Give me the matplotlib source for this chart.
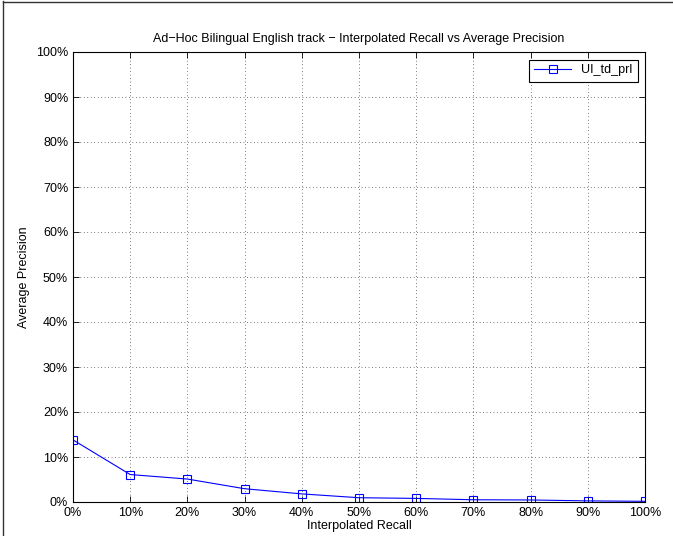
import matplotlib
matplotlib.use("Agg")
import matplotlib.pyplot as plt
from matplotlib.lines import Line2D
from matplotlib.ticker import FuncFormatter

plt.rcParams['font.family'] = ['Liberation Sans', 'DejaVu Sans']

recall = [0, 10, 20, 30, 40, 50, 60, 70, 80, 90, 100]
precision = [13.8, 6.1, 5.1, 2.95, 1.8, 0.95, 0.8, 0.5, 0.45, 0.25, 0.15]
series_name = "UI_td_prl"
title = "Ad\u2212Hoc Bilingual English track \u2212 Interpolated Recall vs Average Precision"

fig = plt.figure(figsize=(6.73, 5.36), dpi=100)
ax = fig.add_axes([73/673, 34/536, (645-73)/673, (502-52)/536])

ax.plot(recall, precision, color='#0000ff', marker='s', markersize=6,
        markerfacecolor='none', markeredgewidth=0.8, linewidth=0.8, label=series_name)

ax.set_xlim(0, 100)
ax.set_ylim(0, 100)
ax.set_xticks(range(0, 101, 10))
ax.set_yticks(range(0, 101, 10))
fmt = FuncFormatter(lambda v, p: f"{int(v)}%")
ax.xaxis.set_major_formatter(fmt)
ax.yaxis.set_major_formatter(fmt)
ax.tick_params(direction='in', top=True, right=True, labelsize=9, length=4, width=0.6)
ax.grid(True, linestyle=(0, (1, 4)), color='black', linewidth=0.5)
for s in ax.spines.values():
    s.set_linewidth(0.8)

ax.set_title(title, fontsize=9, pad=7)
ax.set_xlabel("Interpolated Recall", fontsize=9, labelpad=1)
ax.set_ylabel("Average Precision", fontsize=9)

leg = ax.legend(loc='upper right', fontsize=9, fancybox=False, edgecolor='black',
                framealpha=1, borderaxespad=0.6, handlelength=3)
leg.get_frame().set_linewidth(0.8)

fig.add_artist(Line2D([3/673, 3/673], [0, 1 - 1/536], transform=fig.transFigure, color='#333333', linewidth=1))
fig.add_artist(Line2D([3/673, 1], [1 - 1.5/536, 1 - 1.5/536], transform=fig.transFigure, color='#333333', linewidth=1))

fig.savefig("out.png", dpi=100)
